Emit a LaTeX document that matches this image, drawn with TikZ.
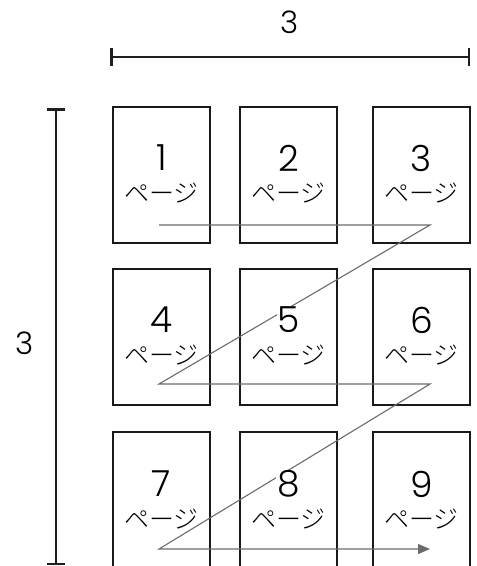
\documentclass[tikz,border=0pt]{standalone}
\usepackage{fontspec}
\setmainfont{Poppins Light}
\newfontfamily\jpfont{Noto Sans CJK JP Light}
\usetikzlibrary{arrows.meta}

\begin{document}
\begin{tikzpicture}[x=1pt, y=-1pt, line join=miter,
    page/.style={draw=black!90, line width=2pt, minimum width=97pt, minimum height=136pt, inner sep=0pt},
    num/.style={font=\fontsize{36}{36}\selectfont, fill=white, inner sep=0.8pt},
    kana/.style={font=\jpfont\fontsize{25}{25}\selectfont, inner sep=0pt},
    dim/.style={font=\fontsize{31}{31}\selectfont},
    bar/.style={draw=black!88, line width=2.5pt, {Bar[width=18pt]}-{Bar[width=18pt]}},
    zig/.style={draw=black!58, line width=1.1pt}]

  \useasboundingbox (0,0) rectangle (477,566);

  %--------------------------
  % Dimension bars
  %--------------------------
  \coordinate (hl) at (110,57);
  \coordinate (hr) at (470,57);
  \draw[bar] (hl) -- (hr);
  \node[dim] (hdim) at (290,22) {3};

  \coordinate (vt) at (56,108);
  \coordinate (vb) at (56,565);
  \draw[bar] (vt) -- (vb);
  \node[dim] (vdim) at (25,343) {3};

  %--------------------------
  % Pages
  %--------------------------
  \node[page] (p1) at (161.5,175) {};
  \node[page] (p2) at (288.5,175) {};
  \node[page] (p3) at (421.5,175) {};
  \node[page] (p4) at (161.5,336.5) {};
  \node[page] (p5) at (288.5,336.5) {};
  \node[page] (p6) at (421.5,336.5) {};
  \node[page] (p7) at (161.5,500) {};
  \node[page] (p8) at (288.5,500) {};
  \node[page] (p9) at (421.5,500) {};

  %--------------------------
  % Reading order
  %--------------------------
  \coordinate (z1) at (159,225);
  \coordinate (z2) at (430,225);
  \coordinate (z3) at (159,384);
  \coordinate (z4) at (430,384);
  \coordinate (z5) at (159,549);
  \coordinate (z6) at (430,549);
  \draw[zig, -{Triangle[length=12pt, width=10pt]}] (z1) -- (z2) -- (z3) -- (z4) -- (z5) -- (z6);

  %--------------------------
  % Page labels
  %--------------------------
  \node[num] (n1) at (161.5,158) {1};
  \node[num] (n2) at (288.5,158) {2};
  \node[num] (n3) at (421.5,158) {3};
  \node[num] (n4) at (161.5,320) {4};
  \node[num] (n5) at (288.5,320) {5};
  \node[num] (n6) at (421.5,320) {6};
  \node[num] (n7) at (161.5,484) {7};
  \node[num] (n8) at (288.5,484) {8};
  \node[num] (n9) at (421.5,484) {9};

  \node[kana] (k1) at (161.5,193) {ページ};
  \node[kana] (k2) at (288.5,193) {ページ};
  \node[kana] (k3) at (421.5,193) {ページ};
  \node[kana] (k4) at (161.5,355) {ページ};
  \node[kana] (k5) at (288.5,355) {ページ};
  \node[kana] (k6) at (421.5,355) {ページ};
  \node[kana] (k7) at (161.5,519) {ページ};
  \node[kana] (k8) at (288.5,519) {ページ};
  \node[kana] (k9) at (421.5,519) {ページ};

\end{tikzpicture}
\end{document}
